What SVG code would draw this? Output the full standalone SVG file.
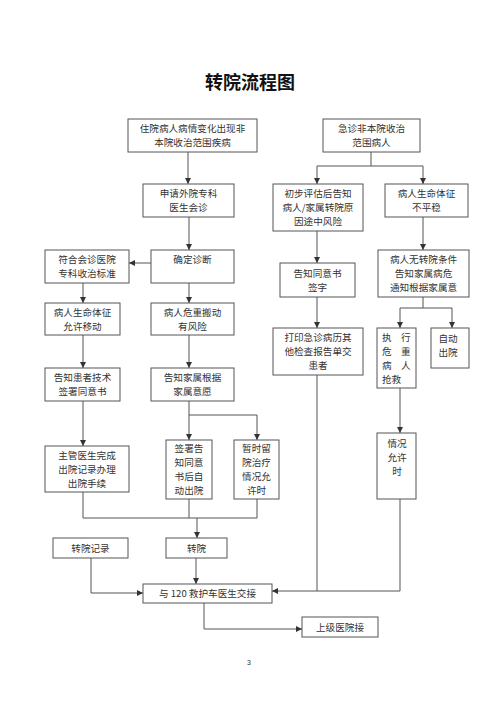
<svg xmlns="http://www.w3.org/2000/svg" width="500" height="707" viewBox="0 0 500 707">
<style>
.b{fill:#fff;stroke:#555;stroke-width:1}
.t{font-family:"Noto Sans CJK SC","Noto Sans",sans-serif;font-size:9.6px;fill:#333;text-anchor:middle}
.l{font-family:"Noto Sans CJK SC","Noto Sans",sans-serif;font-size:9.6px;fill:#333}
.c{fill:none;stroke:#555;stroke-width:1}
.title{font-family:"Noto Sans CJK SC",sans-serif;font-size:18px;font-weight:bold;fill:#111;text-anchor:middle}
</style>
<defs>
<marker id="a" markerUnits="userSpaceOnUse" markerWidth="7" markerHeight="7" refX="6" refY="3.5" orient="auto">
<path d="M0,0.5 L6,3.5 L0,6.5 Z" fill="#333"/>
</marker>
</defs>
<rect width="500" height="707" fill="#fff"/>
<text class="title" x="250" y="89">转院流程图</text>

<g id="connectors">
<path class="c" d="M188,152 V184" marker-end="url(#a)"/>
<path class="c" d="M189,217 V250" marker-end="url(#a)"/>
<path class="c" d="M151,263 H129" marker-end="url(#a)"/>
<path class="c" d="M83,283 V303" marker-end="url(#a)"/>
<path class="c" d="M189,283 V303" marker-end="url(#a)"/>
<path class="c" d="M83,335 V368" marker-end="url(#a)"/>
<path class="c" d="M189,335 V368" marker-end="url(#a)"/>
<path class="c" d="M83,401 V446" marker-end="url(#a)"/>
<path class="c" d="M189,401 V440" marker-end="url(#a)"/>
<path class="c" d="M189,415 H257 V440" marker-end="url(#a)"/>
<path class="c" d="M83,492 V518 H257 V499"/>
<path class="c" d="M189,499 V518"/>
<path class="c" d="M197,518 V538" marker-end="url(#a)"/>
<path class="c" d="M196,558 V584" marker-end="url(#a)"/>
<path class="c" d="M91,558 V593 H143" marker-end="url(#a)"/>
<path class="c" d="M317,375 V591"/>
<path class="c" d="M400,499 V591 H272" marker-end="url(#a)"/>
<path class="c" d="M204,603 V629 H302" marker-end="url(#a)"/>
<path class="c" d="M371,152 V166"/>
<path class="c" d="M317,166 H423"/>
<path class="c" d="M317,166 V184" marker-end="url(#a)"/>
<path class="c" d="M423,166 V184" marker-end="url(#a)"/>
<path class="c" d="M317,231 V263" marker-end="url(#a)"/>
<path class="c" d="M423,217 V250" marker-end="url(#a)"/>
<path class="c" d="M317,297 V328" marker-end="url(#a)"/>
<path class="c" d="M423,297 V308"/>
<path class="c" d="M400,308 H452"/>
<path class="c" d="M400,308 V328" marker-end="url(#a)"/>
<path class="c" d="M452,308 V328" marker-end="url(#a)"/>
<path class="c" d="M400,388 V433" marker-end="url(#a)"/>
</g>

<g id="n1"><rect class="b" x="128" y="119" width="129" height="33"/>
<text class="t" x="192.5" y="132">住院病人病情变化出现非<tspan x="192.5" dy="14">本院收治范围疾病</tspan></text></g>
<g id="n2"><rect class="b" x="323" y="119" width="97" height="33"/>
<text class="t" x="371.5" y="132">急诊非本院收治<tspan x="371.5" dy="14">范围病人</tspan></text></g>
<g id="n3"><rect class="b" x="143" y="184" width="91" height="33"/>
<text class="t" x="188.5" y="197">申请外院专科<tspan x="188.5" dy="14">医生会诊</tspan></text></g>
<g id="n4"><rect class="b" x="151" y="250" width="83" height="33"/>
<text class="t" x="192.5" y="263">确定诊断</text></g>
<g id="n5"><rect class="b" x="45" y="250" width="84" height="33"/>
<text class="t" x="87" y="263">符合会诊医院<tspan x="87" dy="14">专科收治标准</tspan></text></g>
<g id="n6"><rect class="b" x="45" y="303" width="75" height="32"/>
<text class="t" x="82.5" y="315.6">病人生命体征<tspan x="82.5" dy="14">允许移动</tspan></text></g>
<g id="n7"><rect class="b" x="151" y="303" width="83" height="32"/>
<text class="t" x="192.5" y="315.6">病人危重搬动<tspan x="192.5" dy="14">有风险</tspan></text></g>
<g id="n8"><rect class="b" x="45" y="368" width="75" height="33"/>
<text class="t" x="82.5" y="381">告知患者技术<tspan x="82.5" dy="14">签署同意书</tspan></text></g>
<g id="n9"><rect class="b" x="151" y="368" width="83" height="33"/>
<text class="t" x="192.5" y="381">告知家属根据<tspan x="192.5" dy="14">家属意愿</tspan></text></g>
<g id="n10"><rect class="b" x="45" y="446" width="84" height="46"/>
<text class="t" x="87" y="458.6">主管医生完成<tspan x="87" dy="14">出院记录办理</tspan><tspan x="87" dy="14">出院手续</tspan></text></g>
<g id="n11"><rect class="b" x="166" y="440" width="46" height="59"/>
<text class="t" x="189" y="452">签署告<tspan x="189" dy="14">知同意</tspan><tspan x="189" dy="14">书后自</tspan><tspan x="189" dy="14">动出院</tspan></text></g>
<g id="n12"><rect class="b" x="234" y="440" width="45" height="59"/>
<text class="t" x="256.5" y="452">暂时留<tspan x="256.5" dy="14">院治疗</tspan><tspan x="256.5" dy="14">情况允</tspan><tspan x="256.5" dy="14">许时</tspan></text></g>
<g id="n13"><rect class="b" x="53" y="538" width="75" height="20"/>
<text class="t" x="90.5" y="551.6">转院记录</text></g>
<g id="n14"><rect class="b" x="166" y="538" width="61" height="20"/>
<text class="t" x="196.5" y="551.6">转院</text></g>
<g id="n15"><rect class="b" x="143" y="584" width="129" height="19"/>
<text class="t" x="207.5" y="597">与 120 救护车医生交接</text></g>
<g id="n16"><rect class="b" x="302" y="617" width="76" height="20"/>
<text class="t" x="340" y="630.6">上级医院接</text></g>
<g id="n17"><rect class="b" x="273" y="184" width="90" height="47"/>
<text class="t" x="318" y="197">初步评估后告知<tspan x="318" dy="14">病人/家属转院原</tspan><tspan x="318" dy="14">因途中风险</tspan></text></g>
<g id="n18"><rect class="b" x="385" y="184" width="83" height="33"/>
<text class="t" x="426.5" y="197">病人生命体征<tspan x="426.5" dy="14">不平稳</tspan></text></g>
<g id="n19"><rect class="b" x="280" y="263" width="75" height="34"/>
<text class="t" x="317.5" y="276.6">告知同意书<tspan x="317.5" dy="14">签字</tspan></text></g>
<g id="n20"><rect class="b" x="378" y="250" width="91" height="47"/>
<text class="t" x="423.5" y="263">病人无转院条件<tspan x="423.5" dy="14">告知家属病危</tspan><tspan x="423.5" dy="14">通知根据家属意</tspan></text></g>
<g id="n21"><rect class="b" x="273" y="328" width="90" height="47"/>
<text class="t" x="318" y="341">打印急诊病历其<tspan x="318" dy="14">他检查报告单交</tspan><tspan x="318" dy="14">患者</tspan></text></g>
<g id="n22"><rect class="b" x="377" y="328" width="39" height="60"/>
<text class="l" x="382" y="340.6">执<tspan x="401">行</tspan><tspan x="382" dy="14">危</tspan><tspan x="401">重</tspan><tspan x="382" dy="14">病</tspan><tspan x="401">人</tspan><tspan x="382" dy="14">抢救</tspan></text></g>
<g id="n23"><rect class="b" x="431" y="328" width="38" height="40"/>
<text class="t" x="448" y="341.6">自动<tspan x="448" dy="14">出院</tspan></text></g>
<g id="n24"><rect class="b" x="377" y="433" width="39" height="66"/>
<text class="t" x="397" y="447">情况<tspan x="397" dy="14">允许</tspan><tspan x="397" dy="14">时</tspan></text></g>
<text x="247" y="665" style="font-family:'Liberation Sans',sans-serif;font-size:7px;fill:#333">3</text>
</svg>
